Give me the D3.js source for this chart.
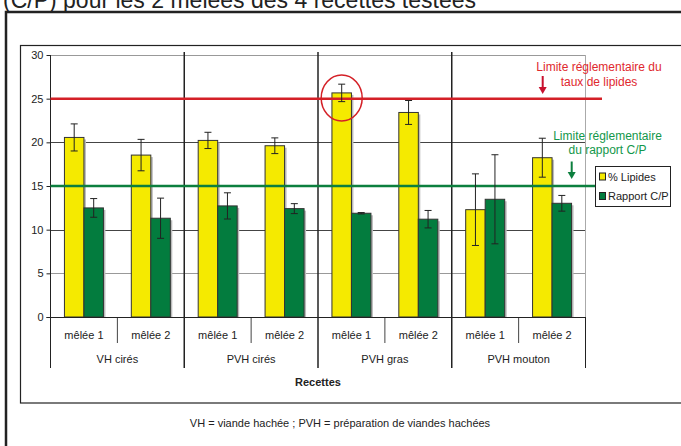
<!DOCTYPE html>
<html><head><meta charset="utf-8">
<script src="https://cdn.jsdelivr.net/npm/d3@7"></script>
<style>body{margin:0;background:#fff}svg{display:block;font-family:"Liberation Sans",Arial,sans-serif}</style>
</head><body><svg id="c" width="681" height="446"></svg>
<script>
const groups = ["VH cirés","PVH cirés","PVH gras","PVH mouton"];
const subgroups = ["mêlée 1","mêlée 2"];
const seriesNames = ["% Lipides","Rapport C/P"];
const lipides    = [20.56, 18.54, 20.22, 19.61, 25.66, 23.42, 12.29, 18.24];
const lipidesErr = [1.55, 1.8, 0.93, 0.9, 1.0, 1.37, 4.1, 2.23];
const rapport    = [12.49, 11.31, 12.72, 12.41, 11.88, 11.2, 13.48, 13.02];
const rapportErr = [1.07, 2.3, 1.5, 0.57, 0.08, 1.0, 5.1, 0.9];
const yTicks = [0,5,10,15,20,25,30];
const limitLipides = 25, limitCP = 15;

const svg = d3.select("#c");
const L = 50.5, R = 585.5, T = 55, B = 317;
const y = d3.scaleLinear().domain([0,30]).range([B,T]);
const gx = d3.scaleBand().domain(groups).range([L,R]);
const sx = d3.scaleBand().domain(subgroups).range([0,gx.bandwidth()]);
const bx = d3.scaleBand().domain(seriesNames).range([-19.5,19.5]);
const colors = {"% Lipides":"#F5EA00","Rapport C/P":"#037C3E"};

// title (cut off at top, as in the source picture)
svg.append("text").attr("x",3).attr("y",8).attr("font-size",23).attr("fill","#222")
  .text("(C/P) pour les 2 mêlées des 4 recettes testées");
// outer box
svg.append("rect").attr("x",6).attr("y",12).attr("width",700).attr("height",460)
  .attr("fill","none").attr("stroke","#222").attr("stroke-width",2.5);
// inner box
svg.append("rect").attr("x",20.5).attr("y",45.5).attr("width",700).attr("height",357.5)
  .attr("fill","none").attr("stroke","#222").attr("stroke-width",1.2);

// gridlines
svg.append("g").selectAll("line").data(yTicks.filter(d=>d>0)).join("line")
  .attr("x1",L).attr("x2",R).attr("y1",d=>Math.round(y(d))+0.5).attr("y2",d=>Math.round(y(d))+0.5)
  .attr("stroke",d=>(d%10===0 && d<30)?"#444":"#999").attr("stroke-width",1);
svg.append("line").attr("x1",R).attr("x2",R).attr("y1",T).attr("y2",B).attr("stroke","#aaa");

// y axis
const yAxis = d3.axisLeft(y).tickValues(yTicks).tickSize(4).tickPadding(3);
const ya = svg.append("g").attr("transform",`translate(${L},0)`).call(yAxis);
ya.select(".domain").remove();
ya.selectAll("line").attr("stroke","#222");
ya.selectAll("text").attr("font-size",11).attr("fill","#222").attr("font-family","Liberation Sans, Arial, sans-serif");
svg.append("line").attr("x1",L).attr("x2",L).attr("y1",T).attr("y2",368).attr("stroke","#222");

// bars data
const rows = [];
groups.forEach((g,gi)=>subgroups.forEach((s,si)=>{
  const i = gi*2+si;
  rows.push({g,s,i,series:"% Lipides",v:lipides[i],e:lipidesErr[i]});
  rows.push({g,s,i,series:"Rapport C/P",v:rapport[i],e:rapportErr[i]});
}));
const cx = d => gx(d.g)+sx(d.s)+sx.bandwidth()/2;
const barG = svg.append("g");
barG.selectAll("rect.sh").data(rows).join("rect").attr("class","sh")
  .attr("x",d=>cx(d)+bx(d.series)+2).attr("y",d=>y(d.v)+2)
  .attr("width",bx.bandwidth()).attr("height",d=>B-y(d.v)-2).attr("fill","#bbb");
barG.selectAll("rect.b").data(rows).join("rect").attr("class","b")
  .attr("x",d=>cx(d)+bx(d.series)).attr("y",d=>y(d.v))
  .attr("width",bx.bandwidth()).attr("height",d=>B-y(d.v))
  .attr("fill",d=>colors[d.series]).attr("stroke","#333").attr("stroke-width",1);

// group separators
svg.append("g").selectAll("line").data(groups.slice(1)).join("line")
  .attr("x1",d=>gx(d)).attr("x2",d=>gx(d)).attr("y1",52).attr("y2",368)
  .attr("stroke","#222").attr("stroke-width",1.5);
svg.append("line").attr("x1",R).attr("x2",R).attr("y1",B).attr("y2",368).attr("stroke","#222");
// subgroup separators
svg.append("g").selectAll("line").data(groups).join("line")
  .attr("x1",d=>gx(d)+sx("mêlée 2")).attr("x2",d=>gx(d)+sx("mêlée 2")).attr("y1",B).attr("y2",343)
  .attr("stroke","#444").attr("stroke-width",1);

// x axis line
svg.append("line").attr("x1",L-4).attr("x2",R).attr("y1",B+0.5).attr("y2",B+0.5).attr("stroke","#222");

// limit lines
svg.append("line").attr("x1",L).attr("x2",602).attr("y1",y(limitLipides)).attr("y2",y(limitLipides))
  .attr("stroke","#D42027").attr("stroke-width",2.5);
svg.append("line").attr("x1",L).attr("x2",601).attr("y1",y(limitCP)).attr("y2",y(limitCP))
  .attr("stroke","#0C7F3E").attr("stroke-width",2.5);

// error bars
const eb = svg.append("g").attr("stroke","#222").attr("stroke-width",1);
rows.forEach(d=>{
  const x = cx(d)+bx(d.series)+bx.bandwidth()/2;
  eb.append("line").attr("x1",x).attr("x2",x).attr("y1",y(d.v+d.e)).attr("y2",y(d.v-d.e));
  [d.v+d.e,d.v-d.e].forEach(v=>eb.append("line").attr("x1",x-3.5).attr("x2",x+3.5).attr("y1",y(v)).attr("y2",y(v)));
});

// category labels
const lab = svg.append("g").attr("font-size",11).attr("fill","#222").attr("text-anchor","middle");
groups.forEach(g=>subgroups.forEach(s=>{
  lab.append("text").attr("x",gx(g)+sx(s)+sx.bandwidth()/2).attr("y",339).text(s);
}));
groups.forEach(g=>lab.append("text").attr("x",gx(g)+gx.bandwidth()/2).attr("y",363).text(g));
svg.append("text").attr("x",318).attr("y",385.5).attr("text-anchor","middle").attr("font-size",11)
  .attr("font-weight","bold").attr("fill","#222").text("Recettes");
svg.append("text").attr("x",340).attr("y",427).attr("text-anchor","middle").attr("font-size",11)
  .attr("fill","#222").text("VH = viande hachée ; PVH = préparation de viandes hachées");

// red circle
const gras1 = rows.find(d=>d.g==="PVH gras"&&d.s==="mêlée 1"&&d.series==="% Lipides");
svg.append("ellipse").attr("cx",cx(gras1)+bx(gras1.series)+bx.bandwidth()/2).attr("cy",y(gras1.v)+5)
  .attr("rx",20.5).attr("ry",23).attr("fill","none").attr("stroke","#D42027").attr("stroke-width",1.5);

// annotations
const red = svg.append("g").attr("fill","#E0282E").attr("font-size",12).attr("text-anchor","middle");
red.append("text").attr("x",599).attr("y",71).text("Limite réglementaire du");
red.append("text").attr("x",599).attr("y",86).text("taux de lipides");
const grn = svg.append("g").attr("fill","#13974A").attr("font-size",12).attr("text-anchor","middle");
grn.append("text").attr("x",607.5).attr("y",139.5).text("Limite réglementaire");
grn.append("text").attr("x",607.5).attr("y",154).text("du rapport C/P");
function arrow(x,y1,y2,col){
  svg.append("line").attr("x1",x).attr("x2",x).attr("y1",y1).attr("y2",y2-5).attr("stroke",col).attr("stroke-width",2);
  svg.append("path").attr("d",`M${x-4},${y2-7}L${x+4},${y2-7}L${x},${y2}Z`).attr("fill",col);
}
arrow(542.7,76,94,"#C8102E");
arrow(571.7,161.5,179,"#0C7F3E");

// legend
const lg = svg.append("g");
lg.append("rect").attr("x",595.5).attr("y",166.5).attr("width",75).attr("height",40)
  .attr("fill","#fff").attr("stroke","#222").attr("stroke-width",1);
seriesNames.forEach((s,i)=>{
  const yy = 176.5+i*19.5;
  lg.append("rect").attr("x",599.5).attr("y",yy-3.5).attr("width",6).attr("height",7)
    .attr("fill",colors[s]).attr("stroke","#222");
  lg.append("text").attr("x",608).attr("y",yy+4).attr("font-size",11).attr("fill","#222").text(s);
});
</script></body></html>
